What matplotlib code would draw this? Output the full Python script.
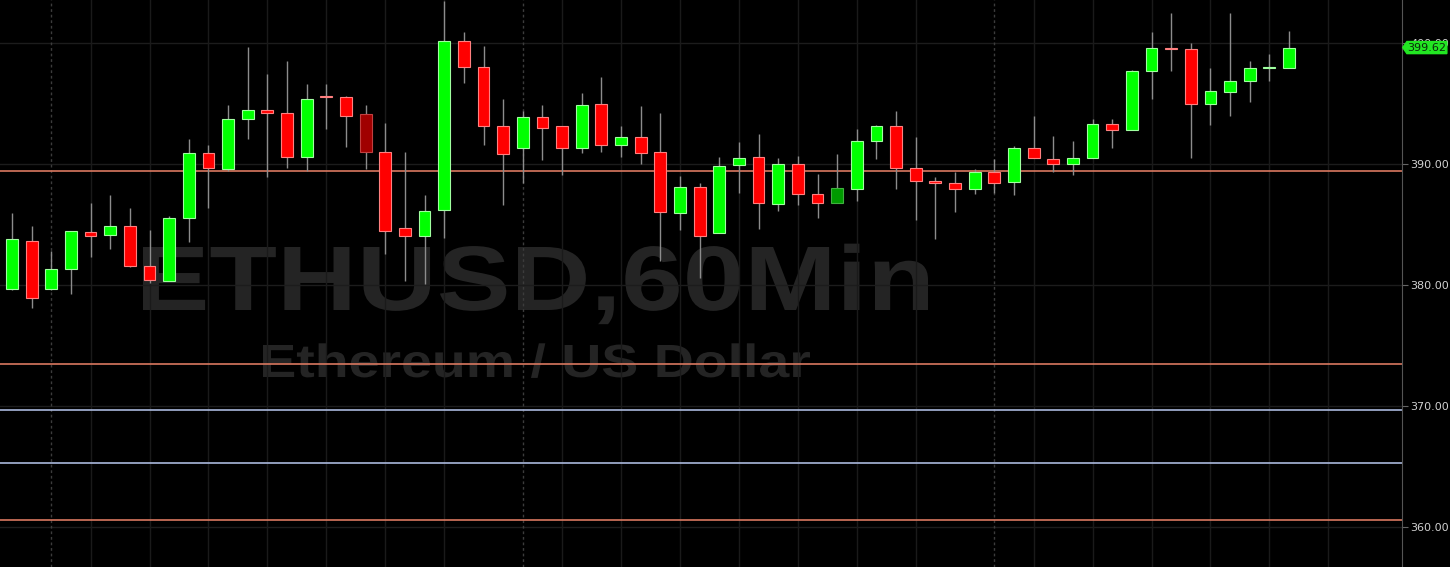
import matplotlib
matplotlib.use("Agg")
import matplotlib.pyplot as plt
import numpy as np
from matplotlib.textpath import TextPath
from matplotlib.patches import PathPatch, Polygon
from matplotlib.font_manager import FontProperties
from matplotlib.transforms import Affine2D, blended_transform_factory

# hourly ETHUSD candles
opens = [379.67, 383.65, 379.67, 381.33, 384.40, 384.15, 384.90, 381.58, 380.33, 385.56,
         390.87, 389.60, 393.70, 394.50, 394.20, 390.60, 395.55, 395.50, 394.10, 390.95,
         384.70, 384.07, 386.20, 400.17, 398.00, 393.10, 391.30, 393.85, 393.10, 391.36,
         394.94, 391.60, 392.20, 390.95, 385.98, 388.13, 384.30, 389.90, 390.60, 386.70,
         390.04, 387.55, 386.80, 387.97, 391.87, 393.10, 389.70, 388.63, 388.47, 387.90,
         389.30, 388.55, 391.36, 390.40, 390.04, 390.46, 393.28, 392.78, 397.68, 399.60,
         399.50, 394.94, 395.93, 396.85, 397.93, 397.93]
closes = [383.82, 378.92, 381.33, 384.48, 384.07, 384.90, 381.58, 380.40, 385.56, 390.87,
          389.70, 393.70, 394.50, 394.20, 390.60, 395.40, 395.50, 394.00, 391.00, 384.50,
          384.07, 386.10, 400.17, 398.00, 393.10, 390.80, 393.85, 393.00, 391.36, 394.85,
          391.60, 392.20, 390.87, 386.06, 388.13, 384.07, 389.80, 390.50, 386.80, 390.04,
          387.55, 386.80, 388.05, 391.87, 393.10, 389.70, 388.60, 388.47, 387.90, 389.30,
          388.47, 391.36, 390.46, 390.04, 390.46, 393.28, 392.78, 397.68, 399.58, 399.50,
          394.94, 396.00, 396.85, 397.93, 397.95, 399.62]
highs = [385.98, 384.90, 382.80, 384.50, 386.80, 387.40, 386.40, 384.56, 385.70, 392.10,
         391.60, 394.90, 399.70, 397.40, 398.50, 396.60, 396.60, 395.60, 394.90, 393.40,
         391.00, 387.40, 403.50, 400.90, 399.75, 395.35, 394.40, 394.85, 393.10, 395.85,
         397.20, 393.10, 394.77, 394.20, 389.00, 388.40, 390.60, 391.80, 392.45, 390.46,
         390.70, 389.20, 390.80, 392.90, 393.20, 394.40, 392.20, 388.90, 389.30, 389.60,
         390.40, 391.45, 393.94, 392.28, 391.87, 393.70, 393.70, 397.76, 400.90, 402.50,
         400.00, 397.90, 402.50, 398.50, 399.10, 401.00]
lows = [379.60, 378.10, 379.60, 379.25, 382.30, 383.00, 381.50, 380.20, 380.30, 383.57,
        386.40, 389.40, 392.10, 388.90, 389.70, 389.40, 392.90, 391.40, 389.60, 382.60,
        380.30, 380.10, 383.90, 396.70, 391.60, 386.60, 388.40, 390.30, 389.05, 390.87,
        390.95, 390.60, 390.04, 382.00, 384.56, 380.60, 384.30, 387.60, 384.60, 386.14,
        386.60, 385.50, 386.80, 386.97, 390.40, 387.90, 385.40, 383.80, 386.06, 387.50,
        387.60, 387.40, 390.46, 389.30, 389.05, 390.46, 391.30, 392.78, 395.35, 397.68,
        390.46, 393.20, 394.00, 395.10, 396.85, 397.93]
dim_candles = [18, 42]          # candles drawn in a darker shade
day_starts = [2, 26, 50]        # dashed session separators

orange_levels = [389.38, 373.44, 360.58]
blue_levels = [369.71, 365.31]

price_ticks = [360, 370, 380, 390, 400]
symbol = "ETHUSD,60Min"
description = "Ethereum / US Dollar"

W, H = 1450, 567
fig = plt.figure(figsize=(W / 100, H / 100), dpi=100, facecolor="black")
ax = fig.add_axes([0, 0, 1402 / W, 1])
ax.set_facecolor("black")

x = np.arange(len(opens))
o = np.array(opens); c = np.array(closes)
hi = np.array(highs); lo = np.array(lows)
up = c >= o

# grid
for p in price_ticks:
    ax.axhline(p, color="#1c1c1c", lw=1, zorder=1)
for i in range(1, 68, 3):
    if any(abs(i - d) <= 1 for d in day_starts):
        continue
    ax.axvline(i, color="#1a1a1a", lw=1, zorder=1)
for d in day_starts:
    ax.axvline(d, color="#3c3c3c", lw=1, ls=(0, (2, 2)), zorder=1)

# watermark text, stretched to the box it fills in the picture
def watermark(txt, x0, x1, ytop, ybase):
    fp = FontProperties(family="Liberation Sans", weight="bold")
    tp = TextPath((0, 0), txt, size=100, prop=fp)
    cap = TextPath((0, 0), "E", size=100, prop=fp).get_extents()
    ext = tp.get_extents()
    sx = (x1 - x0) / ext.width
    sy = (ybase - ytop) / cap.y1
    tr = (Affine2D().translate(-ext.x0, 0).scale(sx, sy)
          .translate(x0, H - ybase).scale(1 / W, 1 / H) + fig.transFigure)
    ax.add_patch(PathPatch(tp, transform=tr, fc="#242424", ec="none", zorder=0.5))

watermark(symbol, 143, 928, 247, 310)
watermark(description, 263, 810, 345, 377)

# support / resistance levels
for lv in orange_levels:
    ax.axhline(lv, color="#d9785f", lw=1.2, zorder=2)
for lv in blue_levels:
    ax.axhline(lv, color="#aab8dd", lw=1.2, zorder=2)

# candles
ax.vlines(x, lo, hi, color="#8c8c8c", lw=1, zorder=3)
fill = np.where(up, "#00ff00", "#ff0000").astype(object)
edge = np.where(up, "#a0ffa0", "#ff8080").astype(object)
for k in dim_candles:
    fill[k] = "#009a00" if up[k] else "#a00000"
    edge[k] = "#40b040" if up[k] else "#c04040"
body = np.maximum(np.abs(c - o), 0.12)
ax.bar(x, body, bottom=np.minimum(o, c), width=0.6, color=list(fill),
       edgecolor=list(edge), linewidth=0.8, zorder=4)

# axis styling
ax.set_xlim(-0.61, 70.75)
ax.set_ylim(356.7, 403.55)
ax.yaxis.tick_right()
ax.set_yticks(price_ticks)
ax.set_yticklabels(["%.2f" % p for p in price_ticks])
ax.tick_params(axis="y", colors="#666666", labelcolor="#d0d0d0", labelsize=8,
               length=4, pad=2)
ax.set_xticks([])
for s in ["left", "top", "bottom"]:
    ax.spines[s].set_visible(False)
ax.spines["right"].set_color("#555555")

# last price tag (covers the 400.00 label as in the original)
last = closes[-1]
tb = blended_transform_factory(ax.transAxes, ax.transData)
hh = 0.5
tag = Polygon([(1.0005, last), (1.0035, last + hh), (1.032, last + hh),
               (1.032, last - hh), (1.0035, last - hh)], closed=True,
              transform=tb, fc="#22e622", ec="#22e622", clip_on=False, zorder=10)
ax.add_patch(tag)
ax.text(1.0178, last, "%.2f" % last, transform=tb, ha="center", va="center",
        fontsize=8, color="#0b2a0b", clip_on=False, zorder=11)

fig.savefig("out.png", dpi=100, facecolor="black")
